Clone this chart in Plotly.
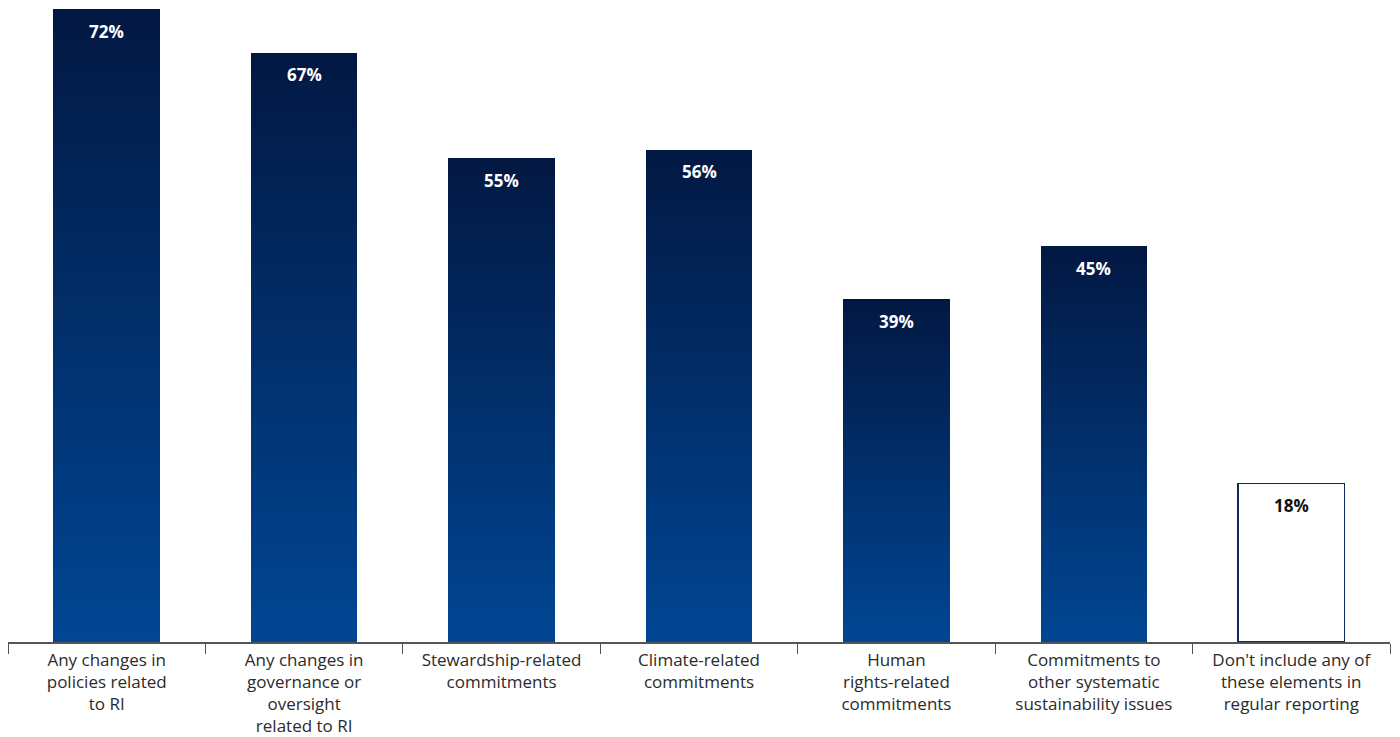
import plotly.graph_objects as go

categories = [
    "Any changes in<br>policies related<br>to RI",
    "Any changes in<br>governance or<br>oversight<br>related to RI",
    "Stewardship-related<br>commitments",
    "Climate-related<br>commitments",
    "Human<br>rights-related<br>commitments",
    "Commitments to<br>other systematic<br>sustainability issues",
    "Don't include any of<br>these elements in<br>regular reporting",
]
values = [72, 67, 55, 56, 39, 45, 18]
gradient_flags = [True, True, True, True, True, True, False]
labels = ["72%", "67%", "55%", "56%", "39%", "45%", "18%"]

BOTTOM = (1, 70, 148)
TOP = (2, 24, 66)
N = 80

def mix(t):
    return "rgb(%d,%d,%d)" % tuple(round(BOTTOM[i] + (TOP[i] - BOTTOM[i]) * t) for i in range(3))

fig = go.Figure()
for k in range(N):
    t = (k + 0.5) / N
    ys = [v / N if g else None for v, g in zip(values, gradient_flags)]
    fig.add_trace(go.Bar(
        x=categories, y=ys, marker=dict(color=mix(t), line=dict(width=0)),
        hoverinfo="skip", showlegend=False,
    ))

fig.add_trace(go.Bar(
    x=categories, y=[None if g else v for v, g in zip(values, gradient_flags)],
    marker=dict(color="white", line=dict(color="#0d2b5e", width=1.2)),
    showlegend=False,
))

for c, v, lab, g in zip(categories, values, labels, gradient_flags):
    fig.add_annotation(
        x=c, y=v, text="<b>%s</b>" % lab, showarrow=False,
        yanchor="middle", yshift=-22,
        font=dict(family="Open Sans", size=17, color="white" if g else "#111111"),
    )

# page body has an 8px default margin, margins below compensate for it
fig.update_layout(
    width=1400, height=737,
    margin=dict(l=0, r=18, t=1, b=103),
    barmode="stack", bargap=0.46,
    plot_bgcolor="white", paper_bgcolor="white",
    font=dict(family="Open Sans", size=17, color="#2b2b2b"),
    xaxis=dict(
        showline=True, linecolor="#555555", linewidth=1.5,
        ticks="outside", tickson="boundaries", ticklen=10, tickcolor="#555555", tickwidth=1.2,
        tickangle=0, showgrid=False, automargin=False, ticklabelstandoff=2,
    ),
    yaxis=dict(range=[0, 72], visible=False, showgrid=False, automargin=False),
)

fig.write_html("out.html")
